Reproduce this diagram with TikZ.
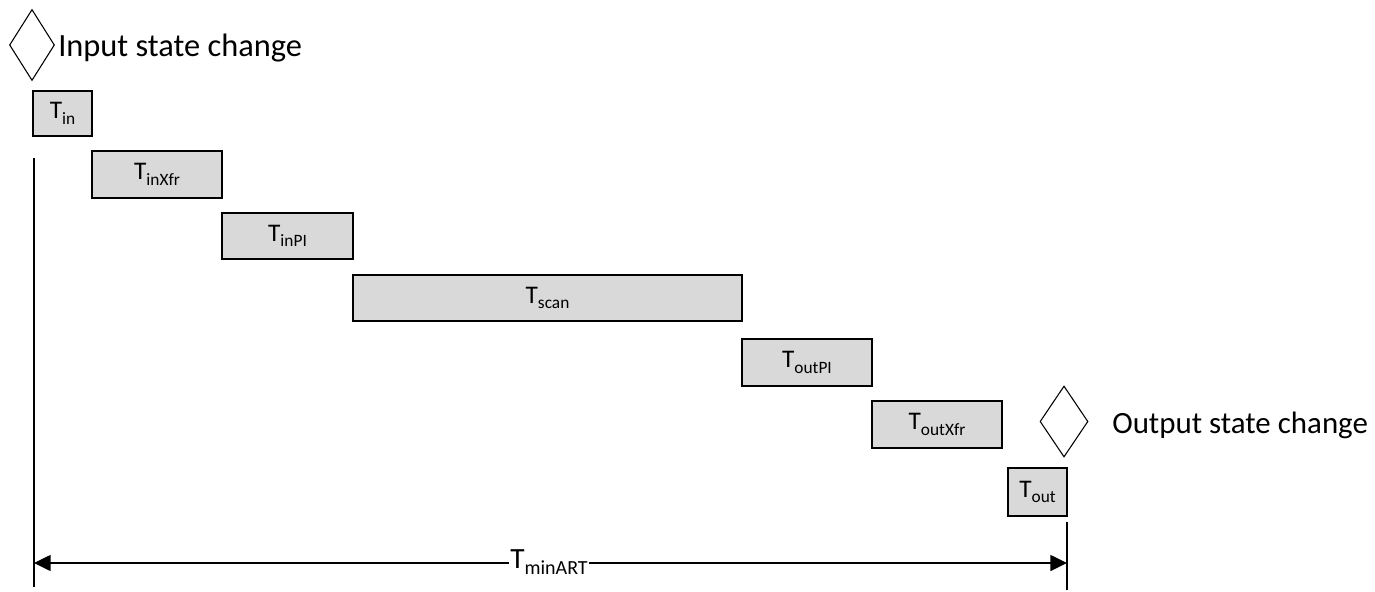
\documentclass[tikz,border=0pt]{standalone}
\usepackage{fontspec}
\setmainfont{Carlito}
\usetikzlibrary{shapes.geometric,arrows.meta}
\definecolor{boxgray}{HTML}{D9D9D9}
\newcommand\bsub[1]{\raisebox{-0.22em}{\fontsize{13}{13}\selectfont #1}}
\newcommand\lsub[1]{\raisebox{-0.22em}{\fontsize{15}{15}\selectfont #1}}
\tikzset{
  timebox/.style={draw=black, fill=boxgray, line width=0.8pt, inner sep=0pt,
    font=\fontsize{19}{19}\selectfont},
  event/.style={diamond, draw=black, line width=0.8pt, inner sep=0pt},
  eventlabel/.style={inner sep=0pt},
  bar/.style={line width=1.1pt},
  span/.style={line width=1.1pt, {Triangle[length=12.5pt,width=12pt]}-{Triangle[length=12.5pt,width=12pt]}}
}
\begin{document}
\begin{tikzpicture}[x=0.75pt,y=-0.75pt]
\useasboundingbox (0,0) rectangle (1375,592);
% events
\node[event, minimum width=45*0.75pt, minimum height=71*0.75pt] (inev) at (32,45) {};
\node[eventlabel, anchor=base west, font=\fontsize{24.3}{24.3}\selectfont] (inlab) at (58,57) {Input state change};
\node[event, minimum width=48*0.75pt, minimum height=71*0.75pt] (outev) at (1064,421.5) {};
\node[eventlabel, anchor=base west, font=\fontsize{23.2}{23.2}\selectfont] (outlab) at (1112,433) {Output state change};
% boxes
\node[timebox, minimum width=59*0.75pt, minimum height=45*0.75pt] (tin) at (62.5,113.5) {T\bsub{in}};
\node[timebox, minimum width=130*0.75pt, minimum height=47*0.75pt] (tinxfr) at (157,174.5) {T\bsub{inXfr}};
\node[timebox, minimum width=131*0.75pt, minimum height=46*0.75pt] (tinpi) at (287.5,236) {T\bsub{inPI}};
\node[timebox, minimum width=389*0.75pt, minimum height=46*0.75pt] (tscan) at (547.5,298) {T\bsub{scan}};
\node[timebox, minimum width=130*0.75pt, minimum height=47*0.75pt] (toutpi) at (807,362.5) {T\bsub{outPI}};
\node[timebox, minimum width=130*0.75pt, minimum height=47*0.75pt] (toutxfr) at (937,424.5) {T\bsub{outXfr}};
\node[timebox, minimum width=59*0.75pt, minimum height=48*0.75pt] (tout) at (1037.5,492) {T\bsub{out}};
% limit lines
\coordinate (ltop) at (34,158);
\coordinate (lbot) at (34,587);
\coordinate (rtop) at (1067,522);
\coordinate (rbot) at (1067,590);
\coordinate (la) at (34,563);
\coordinate (ra) at (1067,563);
\draw[bar] (ltop) -- (lbot);
\draw[bar] (rtop) -- (rbot);
\draw[span] (la) -- (ra);
\node[fill=white, inner sep=1pt, anchor=base, font=\fontsize{22}{22}\selectfont] (tmin) at (549,568) {T\lsub{minART}};
\end{tikzpicture}
\end{document}
